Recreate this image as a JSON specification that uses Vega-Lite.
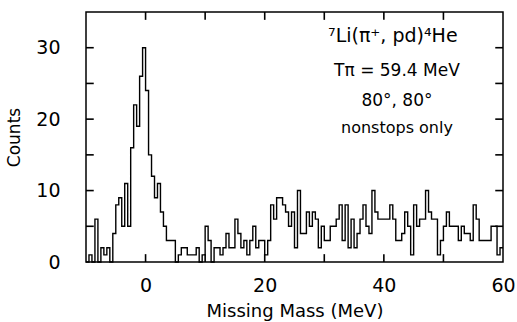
{
  "$schema": "https://vega.github.io/schema/vega-lite/v6.json",
  "width": 417,
  "height": 250,
  "autosize": {"type": "none"},
  "padding": {"left": 86, "top": 12, "right": 14, "bottom": 60},
  "background": "white",
  "config": {
    "view": {"stroke": "black", "strokeWidth": 1.5},
    "font": "DejaVu Sans",
    "axis": {"domain": false, "grid": false, "ticks": false, "labelColor": "black", "titleColor": "black", "labelFont": "DejaVu Sans", "titleFont": "DejaVu Sans", "titleFontWeight": "normal"}
  },
  "datasets": {
    "hist": [
      {"mm": -10, "counts": 0}, {"mm": -9.5, "counts": 1}, {"mm": -9, "counts": 0}, {"mm": -8.5, "counts": 6},
      {"mm": -8, "counts": 0}, {"mm": -7.5, "counts": 2}, {"mm": -7, "counts": 1}, {"mm": -6.5, "counts": 2},
      {"mm": -6, "counts": 0}, {"mm": -5.5, "counts": 4}, {"mm": -5, "counts": 8}, {"mm": -4.5, "counts": 9},
      {"mm": -4, "counts": 5}, {"mm": -3.5, "counts": 11}, {"mm": -3, "counts": 5}, {"mm": -2.5, "counts": 16},
      {"mm": -2, "counts": 22}, {"mm": -1.5, "counts": 19}, {"mm": -1, "counts": 26}, {"mm": -0.5, "counts": 30},
      {"mm": 0, "counts": 24}, {"mm": 0.5, "counts": 15}, {"mm": 1, "counts": 12}, {"mm": 1.5, "counts": 9},
      {"mm": 2, "counts": 11}, {"mm": 2.5, "counts": 7}, {"mm": 3, "counts": 5}, {"mm": 3.5, "counts": 3},
      {"mm": 4, "counts": 3}, {"mm": 4.5, "counts": 3}, {"mm": 5, "counts": 0}, {"mm": 5.5, "counts": 1},
      {"mm": 6, "counts": 2}, {"mm": 6.5, "counts": 2}, {"mm": 7, "counts": 1}, {"mm": 7.5, "counts": 1},
      {"mm": 8, "counts": 1}, {"mm": 8.5, "counts": 2}, {"mm": 9, "counts": 0}, {"mm": 9.5, "counts": 1},
      {"mm": 10, "counts": 5}, {"mm": 10.5, "counts": 3}, {"mm": 11, "counts": 0}, {"mm": 11.5, "counts": 2},
      {"mm": 12, "counts": 2}, {"mm": 12.5, "counts": 1}, {"mm": 13, "counts": 2}, {"mm": 13.5, "counts": 4},
      {"mm": 14, "counts": 2}, {"mm": 14.5, "counts": 2}, {"mm": 15, "counts": 6}, {"mm": 15.5, "counts": 4},
      {"mm": 16, "counts": 2}, {"mm": 16.5, "counts": 3}, {"mm": 17, "counts": 1}, {"mm": 17.5, "counts": 3},
      {"mm": 18, "counts": 5}, {"mm": 18.5, "counts": 2}, {"mm": 19, "counts": 3}, {"mm": 19.5, "counts": 3},
      {"mm": 20, "counts": 1}, {"mm": 20.5, "counts": 3}, {"mm": 21, "counts": 8}, {"mm": 21.5, "counts": 6},
      {"mm": 22, "counts": 9}, {"mm": 22.5, "counts": 9}, {"mm": 23, "counts": 8}, {"mm": 23.5, "counts": 7},
      {"mm": 24, "counts": 5}, {"mm": 24.5, "counts": 7}, {"mm": 25, "counts": 2}, {"mm": 25.5, "counts": 10},
      {"mm": 26, "counts": 4}, {"mm": 26.5, "counts": 4}, {"mm": 27, "counts": 7}, {"mm": 27.5, "counts": 5},
      {"mm": 28, "counts": 7}, {"mm": 28.5, "counts": 6}, {"mm": 29, "counts": 2}, {"mm": 29.5, "counts": 5},
      {"mm": 30, "counts": 3}, {"mm": 30.5, "counts": 3}, {"mm": 31, "counts": 5}, {"mm": 31.5, "counts": 5},
      {"mm": 32, "counts": 6}, {"mm": 32.5, "counts": 8}, {"mm": 33, "counts": 3}, {"mm": 33.5, "counts": 8},
      {"mm": 34, "counts": 2}, {"mm": 34.5, "counts": 6}, {"mm": 35, "counts": 2}, {"mm": 35.5, "counts": 4},
      {"mm": 36, "counts": 6}, {"mm": 36.5, "counts": 8}, {"mm": 37, "counts": 5}, {"mm": 37.5, "counts": 4},
      {"mm": 38, "counts": 10}, {"mm": 38.5, "counts": 7}, {"mm": 39, "counts": 6}, {"mm": 39.5, "counts": 6},
      {"mm": 40, "counts": 6}, {"mm": 40.5, "counts": 6}, {"mm": 41, "counts": 8}, {"mm": 41.5, "counts": 6},
      {"mm": 42, "counts": 3}, {"mm": 42.5, "counts": 3}, {"mm": 43, "counts": 4}, {"mm": 43.5, "counts": 7},
      {"mm": 44, "counts": 5}, {"mm": 44.5, "counts": 1}, {"mm": 45, "counts": 8}, {"mm": 45.5, "counts": 5},
      {"mm": 46, "counts": 6}, {"mm": 46.5, "counts": 6}, {"mm": 47, "counts": 10}, {"mm": 47.5, "counts": 7},
      {"mm": 48, "counts": 6}, {"mm": 48.5, "counts": 6}, {"mm": 49, "counts": 1}, {"mm": 49.5, "counts": 3},
      {"mm": 50, "counts": 5}, {"mm": 50.5, "counts": 7}, {"mm": 51, "counts": 5}, {"mm": 51.5, "counts": 5},
      {"mm": 52, "counts": 5}, {"mm": 52.5, "counts": 3}, {"mm": 53, "counts": 5}, {"mm": 53.5, "counts": 4},
      {"mm": 54, "counts": 4}, {"mm": 54.5, "counts": 3}, {"mm": 55, "counts": 8}, {"mm": 55.5, "counts": 6},
      {"mm": 56, "counts": 3}, {"mm": 56.5, "counts": 3}, {"mm": 57, "counts": 3}, {"mm": 57.5, "counts": 3},
      {"mm": 58, "counts": 5}, {"mm": 58.5, "counts": 5}, {"mm": 59, "counts": 1}, {"mm": 59.5, "counts": 2},
      {"mm": 60, "counts": 2}
    ],
    "xticks": [{"v": 0}, {"v": 10}, {"v": 20}, {"v": 30}, {"v": 40}, {"v": 50}],
    "yticks": [{"v": 5}, {"v": 10}, {"v": 15}, {"v": 20}, {"v": 25}, {"v": 30}],
    "notes": [
      {"line": "⁷Li(π⁺, pd)⁴He", "mm": 41.5, "counts": 31.6, "kind": "big"},
      {"line": "Tπ = 59.4 MeV", "mm": 42.2, "counts": 26.8, "kind": "mid"},
      {"line": "80°, 80°", "mm": 42.2, "counts": 22.6, "kind": "mid"},
      {"line": "nonstops only", "mm": 42.2, "counts": 18.7, "kind": "small"}
    ]
  },
  "layer": [
    {
      "data": {"name": "xticks"},
      "mark": {"type": "rule", "color": "black", "strokeWidth": 1.6},
      "encoding": {"x": {"field": "v", "type": "quantitative", "scale": {"domain": [-10, 60], "nice": false, "zero": false}}, "y": {"datum": 0, "type": "quantitative", "scale": {"domain": [0, 35], "nice": false}}, "y2": {"datum": 1.1}}
    },
    {
      "data": {"name": "xticks"},
      "mark": {"type": "rule", "color": "black", "strokeWidth": 1.6},
      "encoding": {"x": {"field": "v", "type": "quantitative"}, "y": {"datum": 35, "type": "quantitative"}, "y2": {"datum": 33.9}}
    },
    {
      "data": {"name": "yticks"},
      "mark": {"type": "rule", "color": "black", "strokeWidth": 1.6},
      "encoding": {"y": {"field": "v", "type": "quantitative"}, "x": {"datum": -10, "type": "quantitative"}, "x2": {"datum": -8.7}}
    },
    {
      "data": {"name": "yticks"},
      "mark": {"type": "rule", "color": "black", "strokeWidth": 1.6},
      "encoding": {"y": {"field": "v", "type": "quantitative"}, "x": {"datum": 60, "type": "quantitative"}, "x2": {"datum": 58.7}}
    },
    {
      "data": {"name": "hist"},
      "mark": {"type": "line", "interpolate": "step-after", "color": "black", "strokeWidth": 1.4},
      "encoding": {
        "x": {"field": "mm", "type": "quantitative",
          "axis": {"orient": "bottom", "title": "Missing Mass (MeV)", "values": [0, 20, 40, 60],
            "labelPadding": 14, "labelFontSize": 19, "titleFontSize": 18, "titlePadding": 7, "labelFlush": false}},
        "y": {"field": "counts", "type": "quantitative",
          "axis": {"orient": "left", "title": "Counts", "values": [0, 10, 20, 30],
            "labelPadding": 26, "labelFontSize": 19, "titleFontSize": 17, "titlePadding": 12}}
      }
    },
    {
      "data": {"name": "notes"},
      "transform": [{"filter": "datum.kind === 'big'"}],
      "mark": {"type": "text", "fontSize": 19, "align": "center", "baseline": "middle", "color": "black"},
      "encoding": {"x": {"field": "mm", "type": "quantitative"}, "y": {"field": "counts", "type": "quantitative"}, "text": {"field": "line"}}
    },
    {
      "data": {"name": "notes"},
      "transform": [{"filter": "datum.kind === 'mid'"}],
      "mark": {"type": "text", "fontSize": 17, "align": "center", "baseline": "middle", "color": "black"},
      "encoding": {"x": {"field": "mm", "type": "quantitative"}, "y": {"field": "counts", "type": "quantitative"}, "text": {"field": "line"}}
    },
    {
      "data": {"name": "notes"},
      "transform": [{"filter": "datum.kind === 'small'"}],
      "mark": {"type": "text", "fontSize": 16, "align": "center", "baseline": "middle", "color": "black"},
      "encoding": {"x": {"field": "mm", "type": "quantitative"}, "y": {"field": "counts", "type": "quantitative"}, "text": {"field": "line"}}
    }
  ]
}
